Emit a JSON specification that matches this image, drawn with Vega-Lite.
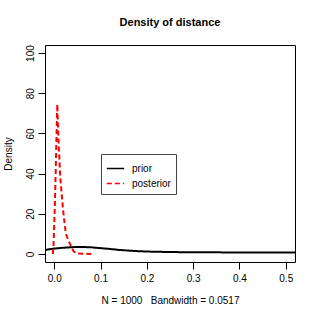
{
  "$schema": "https://vega.github.io/schema/vega-lite/v6.json",
  "width": 250,
  "height": 217,
  "autosize": "none",
  "padding": {"left": 45, "top": 45, "right": 24, "bottom": 57},
  "background": "white",
  "config": {
    "font": "Liberation Sans",
    "view": {"stroke": "black", "strokeWidth": 1}
  },
  "title": {
    "text": "Density of distance",
    "fontSize": 11,
    "fontWeight": "bold",
    "font": "Liberation Sans",
    "color": "black",
    "anchor": "middle",
    "offset": 17
  },
  "data": {
    "values": [
      {"x": -0.02, "density": 2.0, "series": "prior"},
      {"x": 0.0, "density": 2.7, "series": "prior"},
      {"x": 0.02, "density": 3.1, "series": "prior"},
      {"x": 0.04, "density": 3.4, "series": "prior"},
      {"x": 0.06, "density": 3.5, "series": "prior"},
      {"x": 0.08, "density": 3.3, "series": "prior"},
      {"x": 0.10, "density": 2.9, "series": "prior"},
      {"x": 0.12, "density": 2.5, "series": "prior"},
      {"x": 0.14, "density": 2.0, "series": "prior"},
      {"x": 0.16, "density": 1.7, "series": "prior"},
      {"x": 0.18, "density": 1.4, "series": "prior"},
      {"x": 0.20, "density": 1.2, "series": "prior"},
      {"x": 0.25, "density": 0.95, "series": "prior"},
      {"x": 0.30, "density": 0.85, "series": "prior"},
      {"x": 0.35, "density": 0.8, "series": "prior"},
      {"x": 0.40, "density": 0.75, "series": "prior"},
      {"x": 0.45, "density": 0.72, "series": "prior"},
      {"x": 0.50, "density": 0.7, "series": "prior"},
      {"x": 0.52, "density": 0.7, "series": "prior"},
      {"x": -0.003, "density": 0, "series": "posterior"},
      {"x": -0.0015, "density": 5, "series": "posterior"},
      {"x": 0.001, "density": 22, "series": "posterior"},
      {"x": 0.003, "density": 40, "series": "posterior"},
      {"x": 0.005, "density": 60, "series": "posterior"},
      {"x": 0.0065, "density": 74.5, "series": "posterior"},
      {"x": 0.009, "density": 57, "series": "posterior"},
      {"x": 0.013, "density": 38, "series": "posterior"},
      {"x": 0.019, "density": 22, "series": "posterior"},
      {"x": 0.025, "density": 10, "series": "posterior"},
      {"x": 0.034, "density": 5, "series": "posterior"},
      {"x": 0.042, "density": 1.2, "series": "posterior"},
      {"x": 0.05, "density": 0.3, "series": "posterior"},
      {"x": 0.065, "density": 0.1, "series": "posterior"},
      {"x": 0.082, "density": 0, "series": "posterior"}
    ]
  },
  "mark": {"type": "line", "strokeWidth": 2, "clip": true},
  "encoding": {
    "x": {
      "field": "x",
      "type": "quantitative",
      "scale": {"domain": [-0.02, 0.52], "nice": false, "zero": false},
      "axis": {
        "values": [0, 0.1, 0.2, 0.3, 0.4, 0.5],
        "format": ".1f",
        "grid": false,
        "domain": false,
        "tickColor": "black",
        "tickSize": 7,
        "labelFontSize": 10,
        "labelColor": "black",
        "labelPadding": 4,
        "labelFont": "Liberation Sans",
        "title": "N = 1000\u00a0\u00a0\u00a0Bandwidth = 0.0517",
        "titleFontSize": 10,
        "titleFontWeight": "normal",
        "titleColor": "black",
        "titleFont": "Liberation Sans",
        "titlePadding": 12
      }
    },
    "y": {
      "field": "density",
      "type": "quantitative",
      "scale": {"domain": [-4, 104], "nice": false, "zero": false},
      "axis": {
        "values": [0, 20, 40, 60, 80, 100],
        "grid": false,
        "domain": false,
        "tickColor": "black",
        "tickSize": 7,
        "labelFontSize": 10,
        "labelColor": "black",
        "labelAngle": -90,
        "labelAlign": "center",
        "labelBaseline": "bottom",
        "labelPadding": 3,
        "labelFont": "Liberation Sans",
        "title": "Density",
        "titleFontSize": 10,
        "titleFontWeight": "normal",
        "titleColor": "black",
        "titleFont": "Liberation Sans",
        "titlePadding": 12
      }
    },
    "color": {
      "field": "series",
      "type": "nominal",
      "scale": {"domain": ["prior", "posterior"], "range": ["black", "red"]},
      "legend": {
        "title": null,
        "orient": "none",
        "legendX": 56,
        "legendY": 109,
        "strokeColor": "#444444",
        "padding": 5,
        "labelFontSize": 10,
        "labelFont": "Liberation Sans",
        "labelColor": "black",
        "labelOffset": 7,
        "symbolType": "stroke",
        "symbolSize": 300,
        "symbolStrokeWidth": 1.5,
        "rowPadding": 0
      }
    },
    "strokeDash": {
      "field": "series",
      "type": "nominal",
      "scale": {"domain": ["prior", "posterior"], "range": [[1, 0], [5, 3]]},
      "legend": {
        "title": null,
        "orient": "none",
        "legendX": 56,
        "legendY": 109,
        "strokeColor": "#444444",
        "padding": 5,
        "labelFontSize": 10,
        "labelFont": "Liberation Sans",
        "labelColor": "black",
        "labelOffset": 7,
        "symbolType": "stroke",
        "symbolSize": 300,
        "symbolStrokeWidth": 1.5,
        "rowPadding": 0
      }
    }
  }
}
